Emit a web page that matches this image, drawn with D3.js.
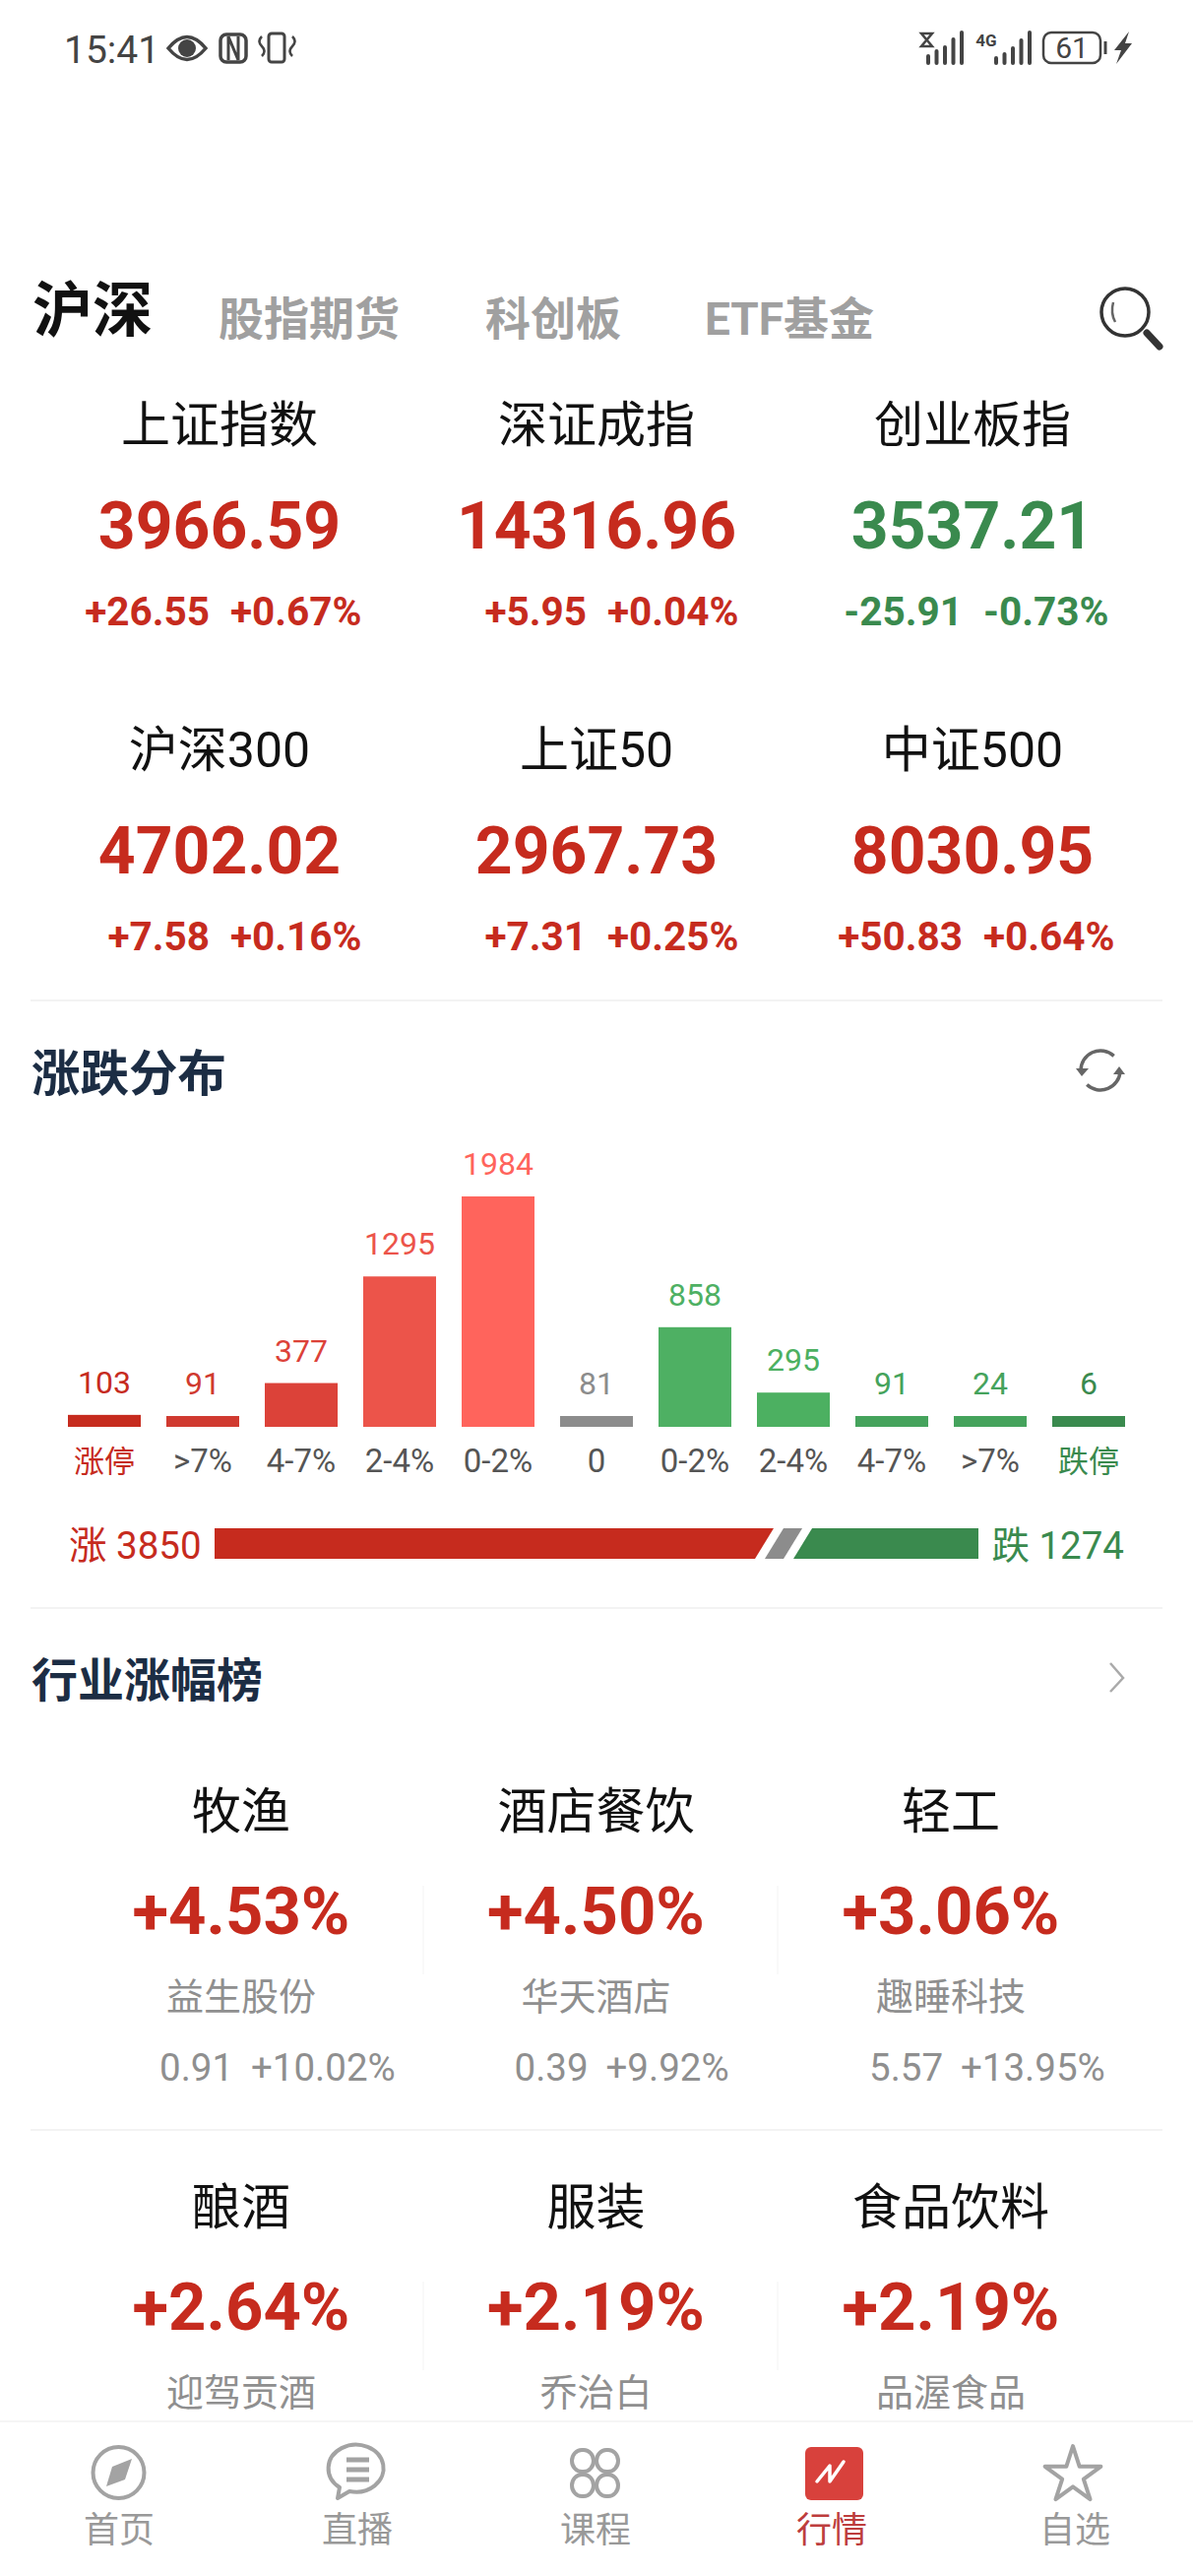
<!DOCTYPE html>
<html>
<head>
<meta charset="utf-8">
<script src="https://cdn.jsdelivr.net/npm/d3@7"></script>
<style>
html, body { margin: 0; padding: 0; background: #fff; }
svg { display: block; }
text { font-family: Roboto, "Noto Sans CJK SC", sans-serif; }
</style>
</head>
<body>
<div id="chart"></div>
<script>
// distribution chart data
var bucketLabels = ["涨停", ">7%", "4-7%", "2-4%", "0-2%", "0", "0-2%", "2-4%", "4-7%", ">7%", "跌停"];
var bucketCounts = [103, 91, 377, 1295, 1984, 81, 858, 295, 91, 24, 6];
var bucketColors = ["#c62b1e", "#d03a30", "#dc4239", "#ec544a", "#ff645c", "#8c8c8c", "#4eb063", "#4cb061", "#45a35c", "#45a35c", "#3a8a4e"];
var labelColors = ["#c62b1e", "#555", "#555", "#555", "#555", "#555", "#555", "#555", "#555", "#555", "#3a8a4e"];
var upCount = 3850, flatCount = 81, downCount = 1274;

// index cards
var indexNames = ["上证指数", "深证成指", "创业板指", "沪深300", "上证50", "中证500"];
var indexValues = ["3966.59", "14316.96", "3537.21", "4702.02", "2967.73", "8030.95"];
var indexChanges = ["+26.55", "+5.95", "-25.91", "+7.58", "+7.31", "+50.83"];
var indexPcts = ["+0.67%", "+0.04%", "-0.73%", "+0.16%", "+0.25%", "+0.64%"];

// industry cards
var industryNames = ["牧渔", "酒店餐饮", "轻工", "酿酒", "服装", "食品饮料"];
var industryPcts = ["+4.53%", "+4.50%", "+3.06%", "+2.64%", "+2.19%", "+2.19%"];
var leaderNames = ["益生股份", "华天酒店", "趣睡科技", "迎驾贡酒", "乔治白", "品渥食品"];
var leaderPrices = ["0.91", "0.39", "5.57"];
var leaderPcts = ["+10.02%", "+9.92%", "+13.95%"];

var tabNames = ["股指期货", "科创板", "ETF基金"];
var navNames = ["首页", "直播", "课程", "行情", "自选"];

var w = 1212, h = 2616;
var red = "#c62b1e", green = "#3a8a4e", grey = "#8f8f8f", navy = "#1c2d44", line = "#f3f3f3";

var svg = d3.select("#chart").append("svg").attr("width", w).attr("height", h);
svg.append("rect").attr("width", w).attr("height", h).attr("fill", "#fff");

function label(x, y, str, size, fill, weight, anchor) {
    return svg.append("text").attr("x", x).attr("y", y).text(str)
        .attr("font-size", size).attr("fill", fill)
        .attr("font-weight", weight || 400)
        .attr("text-anchor", anchor || "middle");
}

function rule(y, x0, x1, color, width) {
    svg.append("line").attr("x1", x0).attr("x2", x1).attr("y1", y).attr("y2", y)
        .attr("stroke", color).attr("stroke-width", width);
}

//-----------------------------------------------------------
// status bar
label(65, 64, "15:41", 39, "#444", 400, "start");
var statusG = svg.append("g").attr("fill", "none").attr("stroke", "#444");
// eye
statusG.append("path").attr("d", "M171,49 Q190,26 209,49 Q190,72 171,49 Z").attr("stroke-width", 3.5);
statusG.append("circle").attr("cx", 190).attr("cy", 49).attr("r", 9).attr("fill", "#444").attr("stroke", "none");
// nfc
statusG.append("rect").attr("x", 224).attr("y", 35).attr("width", 26).attr("height", 28).attr("rx", 6).attr("stroke-width", 3.5);
statusG.append("path").attr("d", "M232,37 V61 M242,37 V61 M232,37 L242,61").attr("stroke-width", 3);
// vibrate
statusG.append("rect").attr("x", 273).attr("y", 34).attr("width", 16).attr("height", 29).attr("rx", 3).attr("stroke-width", 3);
statusG.append("path").attr("d", "M266,37 q-5,5 0,10 q5,5 0,10 M297,37 q5,5 0,10 q-5,5 0,10").attr("stroke-width", 2.5);
// hourglass, signal bars
statusG.append("path").attr("d", "M936,34 H947 L936,47 H947 Z").attr("stroke-width", 2.5);
[0, 1, 2, 3, 4].forEach(function(i) {
    var bh = [7, 12, 16, 24, 31][i];
    statusG.append("line").attr("x1", 943 + i * 8.5).attr("x2", 943 + i * 8.5).attr("y1", 64).attr("y2", 64 - bh)
        .attr("stroke-width", 4).attr("stroke-linecap", "round");
    var bh2 = [5, 9, 15, 23, 31][i];
    statusG.append("line").attr("x1", 1012 + i * 8.5).attr("x2", 1012 + i * 8.5).attr("y1", 64).attr("y2", 64 - bh2)
        .attr("stroke-width", 4).attr("stroke-linecap", "round");
});
label(1002, 47, "4G", 17, "#444", 700);
// battery
statusG.append("rect").attr("x", 1060).attr("y", 33).attr("width", 58).attr("height", 31).attr("rx", 8).attr("stroke-width", 2.5);
statusG.append("line").attr("x1", 1123).attr("x2", 1123).attr("y1", 42).attr("y2", 55).attr("stroke-width", 3);
label(1089, 59, "61", 30, "#444", 400);
statusG.append("path").attr("d", "M1147,32 L1132,51 H1139 L1134,65 L1150,44 H1143 Z").attr("fill", "#444").attr("stroke", "none");

//-----------------------------------------------------------
// tabs
label(33, 337, "沪深", 61, "#111", 700, "start");
var tabX = [222, 493, 716];
tabNames.forEach(function(t, i) {
    label(tabX[i], 340, t, 46, "#a0a0a0", 700, "start");
});
var search = svg.append("g").attr("fill", "none").attr("stroke", "#333");
search.append("circle").attr("cx", 1143).attr("cy", 317).attr("r", 24).attr("stroke-width", 3.5);
search.append("path").attr("d", "M1165,338 L1178,352").attr("stroke-width", 7).attr("stroke-linecap", "round");
search.append("path").attr("d", "M1131,307 Q1128,318 1133,327").attr("stroke-width", 2.5).attr("stroke", "#666");

//-----------------------------------------------------------
// index cards
var cardX = [223, 606, 988];
indexNames.forEach(function(name, i) {
    var x = cardX[i % 3], dy = Math.floor(i / 3) * 330;
    var color = indexChanges[i][0] === "-" ? green : red;
    label(x, 449 + dy, name, 50, "#111");
    label(x, 557 + dy, indexValues[i], 66, color, 700);
    label(x - 10, 635 + dy, indexChanges[i], 40.5, color, 700, "end");
    label(x + 11, 635 + dy, indexPcts[i], 40.5, color, 700, "start");
});
rule(1016, 31, 1181, line, 2);

//-----------------------------------------------------------
// distribution bars
label(32, 1108, "涨跌分布", 49.5, navy, 700, "start");

var refresh = svg.append("g").attr("fill", "none").attr("stroke", "#666").attr("stroke-width", 3.5);
var refreshArc = d3.arc().innerRadius(20).outerRadius(20);
refresh.append("path").attr("transform", "translate(1118,1087)")
    .attr("d", refreshArc({startAngle: -1.6, endAngle: 0.75}));
refresh.append("path").attr("transform", "translate(1118,1087)")
    .attr("d", refreshArc({startAngle: 1.6, endAngle: 3.9}));
refresh.append("path").attr("d", "M1093,1085 H1106 L1099,1093 Z").attr("fill", "#666").attr("stroke", "none");
refresh.append("path").attr("d", "M1131,1091 H1143 L1137,1083 Z").attr("fill", "#666").attr("stroke", "none");

var baseY = 1449, minBar = 11;
var xScale = d3.scaleBand()
    .domain(d3.range(bucketCounts.length))
    .range([69, 1143])
    .paddingInner(0.26)
    .paddingOuter(0);

var yScale = d3.scaleLinear()
    .domain([0, d3.max(bucketCounts)])
    .range([baseY, 1215]);

// small buckets still get a stub
function barTop(d) {
    return Math.min(yScale(d), baseY - minBar);
}

svg.selectAll("rect.bar")
    .data(bucketCounts)
    .enter()
    .append("rect")
    .attr("class", "bar")
    .attr("x", function(d, i) { return xScale(i); })
    .attr("width", xScale.bandwidth())
    .attr("y", barTop)
    .attr("height", function(d) { return baseY - barTop(d); })
    .style("fill", function(d, i) { return bucketColors[i]; });

svg.selectAll("text.count")
    .data(bucketCounts)
    .enter()
    .append("text")
    .attr("class", "count")
    .attr("x", function(d, i) { return xScale(i) + xScale.bandwidth() / 2; })
    .attr("y", function(d) { return barTop(d) - 22; })
    .attr("text-anchor", "middle")
    .attr("font-size", 32)
    .attr("fill", function(d, i) { return bucketColors[i]; })
    .text(function(d) { return d; });

var xAxis = d3.axisBottom(xScale)
    .tickSize(0)
    .tickFormat(function(i) { return bucketLabels[i]; });

var axisG = svg.append("g").attr("transform", "translate(0," + baseY + ")").call(xAxis);
axisG.select(".domain").remove();
axisG.selectAll("text")
    .attr("y", 46).attr("dy", 0)
    .attr("font-size", function(i) { return (i === 0 || i === 10) ? 31 : 33; })
    .style("font-family", 'Roboto, "Noto Sans CJK SC", sans-serif')
    .attr("fill", function(i) { return labelColors[i]; });

//-----------------------------------------------------------
// up / flat / down ratio bar, the slant eats into both ends
var ratioLeft = 218, ratioRight = 994, ratioTop = 1552, ratioBottom = 1583, slant = 19, gap = 10;
var ratioScale = d3.scaleLinear().domain([0, upCount]).range([0, 568]);
var redEnd = ratioLeft + ratioScale(upCount);
var greenStart = ratioRight - ratioScale(downCount);
var flatLeft = redEnd - slant + gap, flatRight = greenStart + slant - gap;

function poly(pts, color) {
    svg.append("polygon").attr("points", pts.join(" ")).attr("fill", color);
}
poly([[ratioLeft, ratioTop], [redEnd, ratioTop], [redEnd - slant, ratioBottom], [ratioLeft, ratioBottom]], red);
poly([[flatLeft + slant, ratioTop], [flatRight, ratioTop], [flatRight - slant, ratioBottom], [flatLeft, ratioBottom]], "#8c8c8c");
poly([[greenStart + slant, ratioTop], [ratioRight, ratioTop], [ratioRight, ratioBottom], [greenStart, ratioBottom]], green);

label(70, 1583, "涨 " + upCount, 38.5, red, 400, "start");
label(1142, 1583, "跌 " + downCount, 38.5, green, 400, "end");
rule(1633, 31, 1181, line, 2);

//-----------------------------------------------------------
// industry cards
label(32, 1723, "行业涨幅榜", 47, navy, 700, "start");
svg.append("path").attr("d", "M1128,1689 L1141,1704 L1128,1718").attr("fill", "none").attr("stroke", "#aaa").attr("stroke-width", 2.5);

var indX = [245, 605.5, 966];
industryNames.forEach(function(name, i) {
    var x = indX[i % 3], dy = Math.floor(i / 3) * 402;
    label(x, 1857 + dy, name, 50, "#111");
    label(x, 1964 + dy, industryPcts[i], 67, red, 700);
    label(x, 2041 + dy, leaderNames[i], 38, grey);
    if (i < 3) {
        label(x - 83, 2113, leaderPrices[i], 38.5, grey, 400, "start");
        label(x + 10, 2113, leaderPcts[i], 38.5, grey, 400, "start");
    }
});
[430, 790].forEach(function(x) {
    [0, 402].forEach(function(dy) {
        svg.append("line").attr("x1", x).attr("x2", x).attr("y1", 1915 + dy).attr("y2", 2005 + dy)
            .attr("stroke", "#f7f7f7").attr("stroke-width", 1.5);
    });
});
rule(2163, 31, 1181, line, 2);

//-----------------------------------------------------------
// bottom nav
rule(2459, 0, w, "#f2f2f2", 1.5);
var navX = [121, 363, 605, 845, 1092];
navNames.forEach(function(n, i) {
    label(navX[i], 2582, n, 36, i === 3 ? "#bd3d3d" : "#999");
});

var nav = svg.append("g").attr("fill", "none").attr("stroke", "#a3a3a3").attr("stroke-width", 4);
// compass
nav.append("circle").attr("cx", 120.5).attr("cy", 2511).attr("r", 26);
nav.append("path").attr("d", "M134,2497 L127,2518 L108,2525 L114,2505 Z").attr("fill", "#a3a3a3").attr("stroke", "none");
// chat
nav.append("path").attr("d", "M345,2526 A28,24 0 1 1 355,2530 L343,2537 Z").attr("stroke-linejoin", "round");
nav.append("path").attr("d", "M352,2498 H375 M352,2508 H375 M352,2518 H375").attr("stroke-width", 5);
// clover
[[581, 2488], [606, 2488], [581, 2513], [606, 2513]].forEach(function(p) {
    nav.append("rect").attr("x", p[0]).attr("y", p[1]).attr("width", 22).attr("height", 22)
        .attr("rx", 10).attr("ry", 11);
});
// active tab tile
svg.append("rect").attr("x", 818).attr("y", 2485).attr("width", 59).attr("height", 54).attr("rx", 6).attr("fill", "#d8413c");
svg.append("path").attr("d", "M830,2520 L843,2504 L843,2520 L857,2500").attr("fill", "none").attr("stroke", "#fff").attr("stroke-width", 3.5)
    .attr("stroke-linejoin", "round").attr("stroke-linecap", "round");
// star
nav.append("path").attr("transform", "translate(1090,2514)")
    .attr("d", d3.symbol().type(d3.symbolStar).size(1000)())
    .attr("stroke-linejoin", "round");
</script>
</body>
</html>
